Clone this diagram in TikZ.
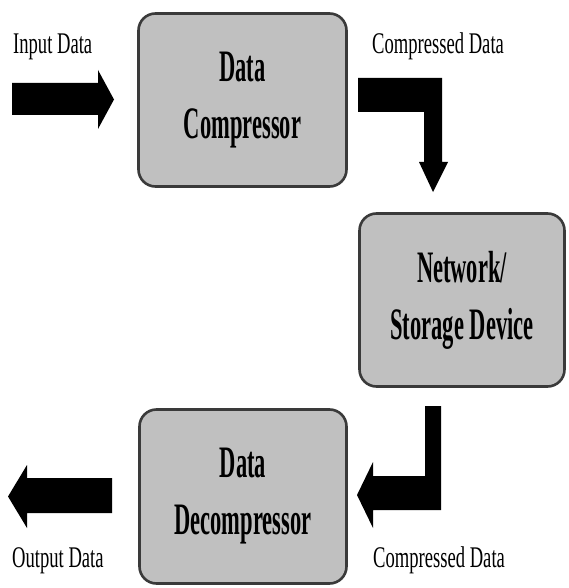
\documentclass[tikz,border=0pt]{standalone}
\usepackage{fontspec}
\setmainfont{Liberation Serif}
\newfontfamily\boxfont{Liberation Serif}[FakeStretch=0.5]
\newfontfamily\lblfont{Liberation Serif}[FakeStretch=0.62]
\definecolor{boxgray}{HTML}{C0C0C0}
\definecolor{boxedge}{HTML}{3A3A3A}
\tikzset{
  procbox/.style={rectangle, rounded corners=17pt, draw=boxedge, line width=2.6pt,
    fill=boxgray, align=center, inner sep=0pt,
    font=\boxfont\bfseries\fontsize{45}{57}\selectfont},
  lbl/.style={anchor=base west, inner sep=0pt, font=\lblfont\fontsize{30}{34}\selectfont},
  blockarrow/.style={fill=black}
}
\begin{document}
\begin{tikzpicture}[x=1pt,y=-1pt]
\useasboundingbox[fill=white] (0,0) rectangle (568,588);

% boxes
\node[procbox, minimum width=208pt, minimum height=173pt] (comp) at (242.5,100) {Data\\Compressor};
\node[procbox, minimum width=205pt, minimum height=173pt] (net) at (462,300) {Network/\\Storage Device};
\node[procbox, minimum width=207pt, minimum height=174pt] (decomp) at (243,496.5) {Data\\Decompressor};

% labels
\node[lbl] (lin) at (13,54) {Input Data};
\node[lbl] (lc1) at (372,54) {Compressed Data};
\node[lbl] (lout) at (12,567) {Output Data};
\node[lbl] (lc2) at (373,567) {Compressed Data};

% input arrow -> compressor
\fill[blockarrow] (12,83) -- (98,83) -- (98,70) -- (114,99.5) -- (98,129) -- (98,115) -- (12,115) -- cycle;

% compressor -> network (elbow)
\fill[blockarrow] (358,78) -- (442,78) -- (442,162) -- (448,162) -- (433,192) -- (419,162)
  -- (424,162) -- (424,112) -- (358,112) -- cycle;

% network -> decompressor (elbow)
\fill[blockarrow] (425,406) -- (441,406) -- (441,510) -- (373,510) -- (373,528) -- (357,495)
  -- (373,462) -- (373,476) -- (425,476) -- cycle;

% decompressor -> output
\fill[blockarrow] (112,478) -- (112,513) -- (27,513) -- (27,528) -- (8,496.5) -- (27,465)
  -- (27,478) -- cycle;
\end{tikzpicture}
\end{document}
